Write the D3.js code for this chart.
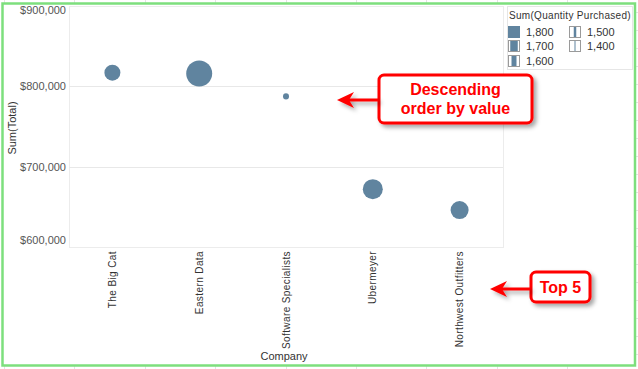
<!DOCTYPE html>
<html><head><meta charset="utf-8">
<script src="https://cdn.jsdelivr.net/npm/d3@7"></script>
<style>
html,body{margin:0;padding:0;background:#fff;}
svg{display:block;font-family:"Liberation Sans",Arial,sans-serif;}
</style></head>
<body>
<script>
const companies = ["The Big Cat","Eastern Data","Software Specialists","Ubermeyer","Northwest Outfitters"];
const totals = [817000, 816000, 787500, 672000, 646000];
const quantities = [1550, 1830, 1404, 1646, 1596];
const yTicks = [600000, 700000, 800000, 900000];
const legendValues = [1800, 1700, 1600, 1500, 1400];
const legendTitle = "Sum(Quantity Purchased)";
const callout1 = ["Descending", "order by value"];
const callout2 = ["Top 5"];

const W = 638, H = 369;
const svg = d3.select("body").append("svg").attr("width", W).attr("height", H);
const defs = svg.append("defs");
const f = defs.append("filter").attr("id","sh").attr("x","-20%").attr("y","-20%").attr("width","150%").attr("height","160%");
f.append("feDropShadow").attr("dx",3).attr("dy",3).attr("stdDeviation",2).attr("flood-color","#000").attr("flood-opacity",0.35);

// faint spreadsheet grid outside the frame
const bg = svg.append("g").attr("stroke","#e4e4e4").attr("stroke-width",1);
d3.range(4, 640, 70.4).forEach(x => {
  bg.append("line").attr("x1",Math.round(x)+0.5).attr("x2",Math.round(x)+0.5).attr("y1",0).attr("y2",3);
  bg.append("line").attr("x1",Math.round(x)+0.5).attr("x2",Math.round(x)+0.5).attr("y1",366).attr("y2",369);
});
d3.range(12, 369, 18).forEach(y => {
  bg.append("line").attr("x1",636).attr("x2",638).attr("y1",y+0.5).attr("y2",y+0.5);
});

// green frame
svg.append("rect").attr("x",2.5).attr("y",3.5).attr("width",632.5).attr("height",362)
  .attr("fill","none").attr("stroke","#7ddf7d").attr("stroke-width",2.5);

const plot = {l:69, r:503, t:6, b:247};
const x = d3.scaleBand().domain(companies).range([plot.l, plot.r]);
const y = d3.scaleLinear().domain([600000, 900000]).range([plot.b, plot.t]);
const area = d3.scaleLinear().domain([1380, 1830]).range([0, 169]);
const radius = q => Math.sqrt(Math.max(0, area(q)));

// plot pane border
svg.append("rect").attr("x",plot.l+0.5).attr("y",plot.t+0.5).attr("width",plot.r-plot.l).attr("height",plot.b-plot.t)
  .attr("fill","#fff").attr("stroke","#ececec");

// gridlines
svg.append("g").selectAll("line").data([700000, 800000]).join("line")
  .attr("x1",plot.l).attr("x2",plot.r)
  .attr("y1",d=>Math.round(y(d))+0.5).attr("y2",d=>Math.round(y(d))+0.5)
  .attr("stroke","#e8e8e8");

// y axis
const yAxis = svg.append("g").attr("transform",`translate(${plot.l-3},0)`)
  .call(d3.axisLeft(y).tickValues(yTicks).tickSize(0).tickPadding(0).tickFormat(d => "$" + d3.format(",")(d)));
yAxis.select(".domain").remove();
yAxis.selectAll("text").attr("fill","#555").attr("font-size","11px").attr("font-family","Liberation Sans, Arial, sans-serif")
  .attr("dy", d => d === 900000 ? "0.7em" : d === 600000 ? "-0.3em" : "0.32em");

svg.append("text").attr("transform","translate(16,128) rotate(-90)").attr("text-anchor","middle")
  .attr("font-size","11px").attr("fill","#333").text("Sum(Total)");

// x axis
const xAxis = svg.append("g").attr("transform",`translate(0,${plot.b})`)
  .call(d3.axisBottom(x).tickSize(0).tickPadding(0));
xAxis.select(".domain").remove();
xAxis.selectAll("text")
  .attr("transform","rotate(-90)")
  .attr("text-anchor","end").attr("x",-4).attr("y",0).attr("dy","0.35em")
  .attr("fill","#333").attr("font-size","10px").attr("font-family","Liberation Sans, Arial, sans-serif")
  .style("letter-spacing","0.4px");

svg.append("text").attr("x",284).attr("y",360).attr("text-anchor","middle")
  .attr("font-size","11px").attr("fill","#333").text("Company");

// marks
svg.append("g").selectAll("circle").data(companies).join("circle")
  .attr("cx", d => x(d) + x.bandwidth()/2)
  .attr("cy", (d,i) => y(totals[i]))
  .attr("r", (d,i) => radius(quantities[i]))
  .attr("fill","#60849f");

// legend
const lg = svg.append("g");
lg.append("rect").attr("x",507.5).attr("y",6.5).attr("width",125).attr("height",63).attr("fill","#fff").attr("stroke","#e6e6e6");
lg.append("text").attr("x",509).attr("y",19).attr("font-size","10px").attr("fill","#333").style("letter-spacing","0.3px").text(legendTitle);
const legendPos = [[508,26],[508,40],[508,55],[569,26],[569,40]];
const qMax = 1800, qMin = 1400;
legendValues.forEach((v,i) => {
  const [lx,ly] = legendPos[i];
  const g = lg.append("g").attr("transform",`translate(${lx},${ly})`);
  const frac = (v - qMin)/(qMax - qMin);
  const innerW = Math.max(1, 10*frac);
  if (v < qMax) g.append("rect").attr("x",0.5).attr("y",0.5).attr("width",11).attr("height",11).attr("fill","#fff").attr("stroke","#9a9a9a");
  g.append("rect").attr("x", v<qMax ? 6 - innerW/2 : 0).attr("y", v<qMax ? 1 : 0)
    .attr("width", v<qMax ? innerW : 12).attr("height", v<qMax ? 10 : 12).attr("fill","#60849f");
  g.append("text").attr("x",18).attr("y",6).attr("dy","0.35em").attr("font-size","11px").attr("fill","#333").text(d3.format(",")(v));
});

// callouts
function callout(bx, by, bw, bh, lines, tipX, tipY, lineH) {
  const g = svg.append("g");
  g.append("rect").attr("x",bx).attr("y",by).attr("width",bw).attr("height",bh).attr("rx",5)
    .attr("fill","#fff").attr("stroke","#ff0000").attr("stroke-width",3).attr("filter","url(#sh)");
  const ag = g.append("g").attr("filter","url(#sh)");
  ag.append("line").attr("x1",tipX+10).attr("x2",bx-1).attr("y1",tipY).attr("y2",tipY).attr("stroke","#ff0000").attr("stroke-width",3);
  ag.append("path").attr("d",`M${tipX},${tipY} L${tipX+17},${tipY-8} L${tipX+12},${tipY} L${tipX+17},${tipY+8} Z`).attr("fill","#ff0000");
  const cy = by + bh/2 - (lines.length-1)*lineH/2;
  lines.forEach((t,i) => {
    g.append("text").attr("x",bx+bw/2).attr("y",cy + i*lineH).attr("dy","0.35em").attr("text-anchor","middle")
      .attr("font-size","16px").attr("font-weight","bold").attr("fill","#ff0000").text(t);
  });
}
callout(379, 75, 153, 48, callout1, 337, 100, 19);
callout(531, 272, 59, 30, callout2, 490, 289, 19);
</script>
</body></html>
